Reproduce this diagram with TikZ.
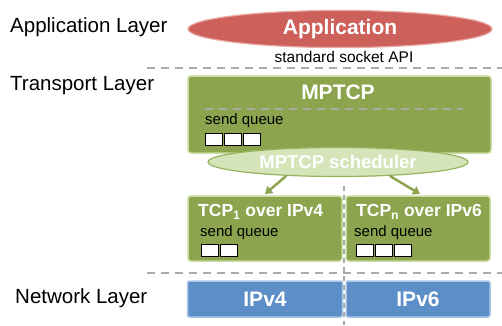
\documentclass[tikz,border=0pt]{standalone}
\usepackage{fontspec}
\setmainfont{Liberation Sans}
\usetikzlibrary{arrows.meta,positioning,shapes.geometric}
\definecolor{appred}{RGB}{205,96,90}
\definecolor{appedge}{RGB}{232,170,165}
\definecolor{tcpgreen}{RGB}{140,164,78}
\definecolor{tcpedge}{RGB}{200,220,160}
\definecolor{schedfill}{RGB}{214,228,186}
\definecolor{schededge}{RGB}{150,180,95}
\definecolor{ipblue}{RGB}{92,142,200}
\definecolor{ipedge}{RGB}{170,200,230}
\definecolor{sepgray}{RGB}{170,170,170}

\begin{document}
\begin{tikzpicture}[x=1pt,y=-1pt,
  layername/.style={anchor=west,inner sep=0pt,font=\fontsize{20.5}{23}\selectfont},
  appoval/.style={ellipse,draw=appedge,line width=1.2pt,fill=appred,text=white,
    font=\fontsize{21}{23}\selectfont\bfseries,minimum width=304pt,minimum height=31pt},
  tcpbox/.style={draw=tcpedge,line width=1.5pt,fill=tcpgreen,rounded corners=3pt},
  ipbox/.style={draw=ipedge,line width=1.5pt,fill=ipblue,rounded corners=2pt,
    text=white,font=\fontsize{21}{23}\selectfont\bfseries},
  boxtitle/.style={text=white,font=\fontsize{17.5}{19}\selectfont\bfseries,anchor=west,inner sep=0pt},
  queuelabel/.style={anchor=west,font=\fontsize{15}{17}\selectfont,inner sep=0pt},
  slot/.style={draw=black,line width=0.8pt,fill=white,minimum width=17pt,minimum height=12pt,inner sep=0pt},
  separator/.style={draw=sepgray,line width=2.5pt,dash pattern=on 8pt off 6pt},
  schedarrow/.style={-{Triangle[length=7pt,width=9pt]},line width=2.5pt,tcpgreen}
]
  \useasboundingbox (0,0) rectangle (502,325);

  % layer names
  \node[layername] (applayer) at (10,27) {Application Layer};
  \node[layername] (translayer) at (10,86) {Transport Layer};
  \node[layername] (netlayer) at (15,298) {Network Layer};

  % separators
  \draw[separator] (147,68) -- (502,68);
  \draw[separator] (147,273) -- (502,273);
  \draw[draw=sepgray,line width=1.5pt,dash pattern=on 5pt off 4pt] (344,186) -- (344,325);

  % application
  \node[appoval] (app) at (340,29) {Application};
  \node[font=\fontsize{15.5}{17}\selectfont] (api) at (344,57) {standard socket API};

  % MPTCP
  \draw[tcpbox] (188,76) rectangle (491,153);
  \node[text=white,font=\fontsize{21}{23}\selectfont\bfseries] (mptcp) at (338,92) {MPTCP};
  \draw[separator,line width=2pt] (205,109) -- (463,109);
  \node[queuelabel] (mq) at (205,121) {send queue};
  \foreach \i in {0,1,2}
    \node[slot] (m\i) at (214+\i*19,139) {};

  % scheduler
  \node[ellipse,draw=schededge,line width=1.2pt,fill=schedfill,text=white,
    font=\fontsize{18.5}{20}\selectfont\bfseries,minimum width=260pt,minimum height=29pt]
    (sched) at (338,162) {MPTCP scheduler};

  % subflows
  \draw[tcpbox] (188,196) rectangle (342,261);
  \draw[tcpbox] (346,196) rectangle (490,261);
  \node[boxtitle] (tcpa) at (198,212) {TCP\textsubscript{1} over IPv4};
  \node[boxtitle] (tcpb) at (356,212) {TCP\textsubscript{n} over IPv6};
  \node[queuelabel] (qa) at (200,233) {send queue};
  \node[queuelabel] (qb) at (354,233) {send queue};
  \foreach \i in {0,1}
    \node[slot] (a\i) at (209.5+\i*19,250) {};
  \foreach \i in {0,1,2}
    \node[slot] (b\i) at (364.5+\i*19,250) {};

  \coordinate (tcpatop) at (265,194);
  \coordinate (tcpbtop) at (420,194);
  \draw[schedarrow] (sched.-165) -- (tcpatop);
  \draw[schedarrow] (sched.-15) -- (tcpbtop);

  % network
  \node[ipbox,minimum width=155pt,minimum height=36pt] (ipa) at (265,299) {IPv4};
  \node[ipbox,minimum width=144pt,minimum height=36pt] (ipb) at (418,299) {IPv6};
\end{tikzpicture}
\end{document}
